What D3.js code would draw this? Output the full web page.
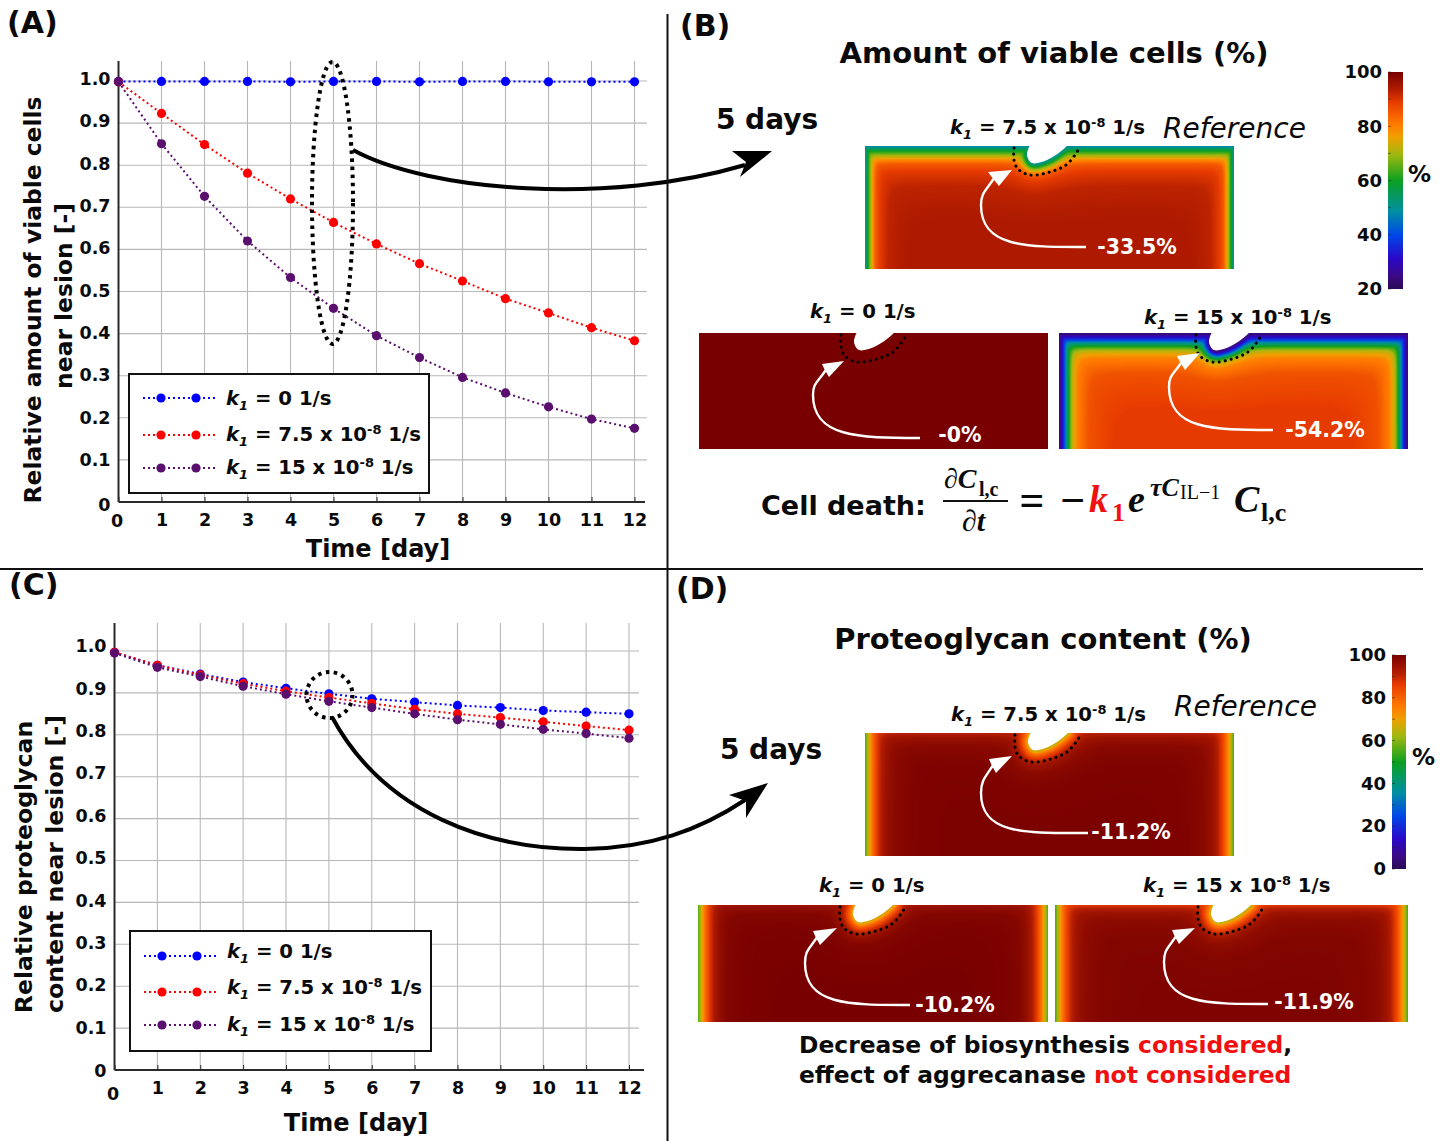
<!DOCTYPE html>
<html>
<head>
<meta charset="utf-8">
<script src="https://cdn.jsdelivr.net/npm/d3@7"></script>
<style>
  body { margin: 0; background: #fff; }
  svg { display: block; }
  text { font-family: "DejaVu Sans", Verdana, sans-serif; font-weight: 700; fill: #0a0a0a; }
  .grid line { stroke: #b8b8b8; stroke-width: 1.1px; }
  .axis path, .axis line { stroke: #2a2a2a; }
  .axis path { stroke-width: 2px; }
</style>
</head>
<body>
<svg id="chart" width="1451" height="1141"></svg>
<script>
// values
const days = [0, 1, 2, 3, 4, 5, 6, 7, 8, 9, 10, 11, 12];
const yTicks = [0, 0.1, 0.2, 0.3, 0.4, 0.5, 0.6, 0.7, 0.8, 0.9, 1.0];

const viableK0 = [0.999, 0.999, 0.999, 0.999, 0.998, 0.999, 0.999, 0.998, 0.999, 0.999, 0.998, 0.998, 0.998];
const viableK75 = [0.998, 0.923, 0.849, 0.781, 0.720, 0.664, 0.613, 0.566, 0.525, 0.483, 0.449, 0.414, 0.383];
const viableK15 = [0.998, 0.851, 0.726, 0.620, 0.533, 0.460, 0.395, 0.343, 0.296, 0.259, 0.226, 0.197, 0.175];

const pgK0 = [0.997, 0.966, 0.945, 0.926, 0.911, 0.898, 0.886, 0.878, 0.870, 0.865, 0.858, 0.854, 0.850];
const pgK75 = [0.997, 0.966, 0.943, 0.922, 0.904, 0.889, 0.875, 0.861, 0.850, 0.841, 0.831, 0.821, 0.811];
const pgK15 = [0.995, 0.961, 0.939, 0.916, 0.897, 0.880, 0.865, 0.850, 0.836, 0.825, 0.813, 0.803, 0.792];

const kValues = ["0", "7.5", "15"];
const kPowers = [false, true, true];
const seriesColors = ["#0000ff", "#ff0000", "#5a0f6e"];

// colour bars: position on the bar -> colour
const barStops = [0, 0.06, 0.14, 0.25, 0.36, 0.5, 0.62, 0.7, 0.76, 0.86, 0.92, 1];
const barColors = ["#2b0a55", "#3a0a86", "#2a08c8", "#0048e8", "#0090a0", "#0ca020", "#a0b810", "#f0a000", "#ff7a00", "#e83c00", "#b01c00", "#780000"];
const viableBarTicks = [20, 40, 60, 80, 100];
const pgBarTicks = [0, 20, 40, 60, 80, 100];

// fields: distance from a free edge (px) -> percent
const fieldDist = [0, 3, 6, 10, 14, 18, 25, 40, 70];
const viableRefPct = [47, 55, 62, 71, 79, 85, 89, 92.5, 94];
const viableZeroPct = [100, 100, 100, 100, 100, 100, 100, 100, 100];
const viableHighPct = [22, 28, 36, 50, 62, 72, 80, 86, 89];
const pgRefPct = [54, 66, 77, 86, 92, 95, 97.5, 99, 99.5];
const pgZeroPct = [55, 67, 78, 87, 93, 96, 98.5, 99.5, 100];
const pgHighPct = [54, 65, 76, 85, 91, 94.5, 97, 98.5, 99];

const svg = d3.select("#chart");
const barT = d3.scaleLinear().domain(barStops).range(barColors).clamp(true);

// ----- line charts -----
function kLabel(sel, idx, x, y, size) {
  const t = sel.append("text").attr("x", x).attr("y", y).style("font-size", size + "px");
  t.append("tspan").style("font-style", "italic").text("k");
  t.append("tspan").style("font-style", "italic").style("font-size", size * 0.66 + "px").attr("dy", size * 0.25).text("1");
  t.append("tspan").attr("dy", -size * 0.25).text(" = " + kValues[idx] + (kPowers[idx] ? " x 10" : ""));
  if (kPowers[idx]) {
    t.append("tspan").style("font-size", size * 0.66 + "px").attr("dy", -size * 0.36).text("-8");
    t.append("tspan").attr("dy", size * 0.36).text(" 1/s");
  } else {
    t.append("tspan").text(" 1/s");
  }
  return t;
}

function lineChart(o) {
  const x = d3.scaleLinear().domain([0, 12]).range([o.x0, o.x12]);
  const y = d3.scaleLinear().domain([0, 1]).range([o.y0, o.y1]);
  const g = svg.append("g");

  g.append("g").attr("class", "grid").selectAll("line").data(days.slice(1)).join("line")
    .attr("x1", d => x(d)).attr("x2", d => x(d)).attr("y1", o.top).attr("y2", o.y0);
  g.append("g").attr("class", "grid").selectAll("line").data(yTicks.slice(1)).join("line")
    .attr("x1", o.x0).attr("x2", o.gridRight).attr("y1", d => y(d)).attr("y2", d => y(d));

  const xAxis = g.append("g").attr("class", "axis").attr("transform", `translate(0,${o.y0})`)
    .call(d3.axisBottom(x).tickValues(days).tickSize(-5).tickSizeOuter(0).tickPadding(12).tickFormat(d3.format("d")));
  xAxis.select(".domain").attr("d", `M${o.x0},0H${o.axisRight}`);
  xAxis.selectAll(".tick text").style("font-size", "17.5px").attr("fill", "#0a0a0a")
    .attr("transform", d => d === 0 ? `translate(-2,${o.zeroX})` : null);

  const yAxis = g.append("g").attr("class", "axis").attr("transform", `translate(${o.x0},0)`)
    .call(d3.axisLeft(y).tickValues(yTicks).tickSize(0).tickPadding(8).tickFormat(d => d === 0 ? "0" : d.toFixed(1)));
  yAxis.select(".domain").attr("d", `M0,${o.top}V${o.y0}`);
  yAxis.selectAll(".tick text").style("font-size", "17.5px").attr("fill", "#0a0a0a")
    .attr("transform", d => `translate(0,${d === 0 ? o.zeroY : -o.lift * d})`);

  const line = d3.line().x((d, i) => x(days[i])).y(d => y(d));
  o.series.forEach((vals, k) => {
    g.append("path").attr("d", line(vals)).attr("fill", "none")
      .attr("stroke", seriesColors[k]).attr("stroke-width", 2).attr("stroke-dasharray", "2 3");
    g.selectAll(null).data(vals).join("circle")
      .attr("cx", (d, i) => x(days[i])).attr("cy", d => y(d)).attr("r", 4.6).attr("fill", seriesColors[k]);
  });

  // legend box
  g.append("rect").attr("x", o.lg.x).attr("y", o.lg.y).attr("width", o.lg.w).attr("height", o.lg.h)
    .attr("fill", "#fff").attr("stroke", "#111").attr("stroke-width", 2);
  kValues.forEach((v, i) => {
    const ly = o.lg.lines[i];
    g.append("line").attr("x1", o.lg.x + 14).attr("x2", o.lg.x + 87).attr("y1", ly).attr("y2", ly)
      .attr("stroke", seriesColors[i]).attr("stroke-width", 2).attr("stroke-dasharray", "2 3");
    [o.lg.x + 32, o.lg.x + 67].forEach(cx => {
      g.append("circle").attr("cx", cx).attr("cy", ly).attr("r", 4.6).attr("fill", seriesColors[i]);
    });
    kLabel(g, i, o.lg.x + 97, o.lg.text[i], 19.7);
  });

  g.append("text").attr("text-anchor", "middle").attr("x", o.xLabel[0]).attr("y", o.xLabel[1])
    .style("font-size", "24px").text("Time [day]");
  o.yLabels.forEach(l => {
    g.append("text").attr("text-anchor", "middle")
      .attr("transform", `translate(${l.x},${l.y}) rotate(-90)`)
      .style("font-size", l.size + "px").text(l.text);
  });
}

lineChart({
  x0: 118.5, x12: 634.5, y0: 502, y1: 81, top: 61, gridRight: 647, axisRight: 645,
  lift: 2, zeroY: 3, zeroX: 1,
  series: [viableK0, viableK75, viableK15],
  lg: { x: 129, y: 374, w: 300, h: 119, lines: [398, 435, 468], text: [405, 441, 474] },
  xLabel: [378, 557],
  yLabels: [
    { text: "Relative amount of viable cells", x: 41, y: 300, size: 23.4 },
    { text: "near lesion [-]", x: 72, y: 296, size: 23.4 }
  ]
});

lineChart({
  x0: 114.5, x12: 629, y0: 1070, y1: 651, top: 623, gridRight: 639, axisRight: 644,
  lift: 5, zeroY: 1, zeroX: 6,
  series: [pgK0, pgK75, pgK15],
  lg: { x: 130, y: 931, w: 301, h: 120, lines: [956, 992, 1025], text: [958, 994, 1031] },
  xLabel: [356, 1131],
  yLabels: [
    { text: "Relative proteoglycan", x: 32, y: 867, size: 23.6 },
    { text: "content near lesion [-]", x: 63, y: 864, size: 23.6 }
  ]
});

// ----- heat maps -----
// lesion outline and dotted contour, relative to the lesion's left end on the top edge
const lesionPts = [[1, -1], [-2, 9], [3, 17], [18, 14], [31, 6], [39, -1]];
const contourPts = [[-15, 2], [-15, 14], [-11, 23], [1, 29], [21, 26], [37, 19], [46, 9], [51, 1]];
const lesionCurve = d3.line().curve(d3.curveCatmullRom);

function sampleLesion(lx) {
  const tmp = svg.append("path").attr("d", lesionCurve(lesionPts));
  const node = tmp.node(), len = node.getTotalLength(), pts = [];
  for (let s = 0; s <= len; s += 2) {
    const p = node.getPointAtLength(s);
    pts.push([p.x + lx, p.y]);
  }
  tmp.remove();
  return pts;
}

function heatMap(o) {
  const w = Math.round(o.x1 - o.x), h = Math.round(o.y1 - o.y);
  const canvas = document.createElement("canvas");
  canvas.width = w; canvas.height = h;
  const ctx = canvas.getContext("2d");
  const img = ctx.createImageData(w, h);
  const profile = d3.scaleLinear().domain(fieldDist).range(o.pct).clamp(true);
  const toBar = d3.scaleLinear().domain(o.barDomain).range([0, 1]);
  const lesion = sampleLesion(o.lesionX - o.x);
  const p = 4;
  for (let j = 0; j < h; j++) {
    for (let i = 0; i < w; i++) {
      const dSide = Math.min(i + 0.5, w - i - 0.5) * o.side;
      const dTop = (j + 0.5) * o.topK + o.topOff;
      let dLes = Infinity;
      lesion.forEach(q => {
        const dd = Math.hypot(i - q[0], j - q[1]);
        if (dd < dLes) dLes = dd;
      });
      dLes = dLes * o.lesK + o.lesOff;
      const d = Math.pow(Math.pow(dSide, -p) + Math.pow(dTop, -p) + Math.pow(dLes, -p), -1 / p);
      const c = d3.rgb(barT(toBar(profile(d))));
      const n = (j * w + i) * 4;
      img.data[n] = c.r; img.data[n + 1] = c.g; img.data[n + 2] = c.b; img.data[n + 3] = 255;
    }
  }
  ctx.putImageData(img, 0, 0);
  svg.append("image").attr("x", o.x).attr("y", o.y).attr("width", w).attr("height", h)
    .attr("href", canvas.toDataURL());

  // lesion cut-out
  svg.append("path").attr("transform", `translate(${o.lesionX},${o.y})`)
    .attr("d", lesionCurve(lesionPts)).attr("fill", "#fff");
  svg.append("rect").attr("x", o.lesionX - 1).attr("y", o.y - 2).attr("width", 42).attr("height", 2).attr("fill", "#fff");
  // dotted contour
  svg.append("path").attr("transform", `translate(${o.lesionX},${o.y})`)
    .attr("d", d3.line().curve(d3.curveCatmullRom)(contourPts))
    .attr("fill", "none").attr("stroke", "#000").attr("stroke-width", 3)
    .attr("stroke-linecap", "round").attr("stroke-dasharray", "0.1 6");

  // white pointer
  const a = o.arrow;
  const mid = [(a.b1[0] + a.b2[0]) / 2, (a.b1[1] + a.b2[1]) / 2];
  svg.append("path")
    .attr("d", `M${a.tail}C${a.tail[0] - 62},${a.tail[1]} ${a.left[0]},${a.left[1] + 42} ${a.left}C${a.left[0]},${a.left[1] - 12} ${mid[0] - 8},${mid[1] + 12} ${mid}`)
    .attr("fill", "none").attr("stroke", "#fff").attr("stroke-width", 2.4);
  svg.append("path").attr("d", `M${a.tip}L${a.b1}L${mid[0] - 1},${mid[1] - 1}L${a.b2}Z`).attr("fill", "#fff");

  svg.append("text").attr("x", o.pctLabel[0]).attr("y", o.pctLabel[1]).attr("text-anchor", "middle")
    .style("font-size", "20.5px").style("fill", "#fff").text(o.pctLabel[2]);
  kLabel(svg, o.k, o.kLabel[0], o.kLabel[1], 19.7).attr("text-anchor", "start");
}

const viableDomain = [20, 100], pgDomain = [0, 100];

heatMap({ x: 865, y: 146, x1: 1234, y1: 269, lesionX: 1029, pct: viableRefPct, barDomain: viableDomain,
  side: 1.7, topK: 1, topOff: 0.01, lesK: 1.5, lesOff: 0.5, k: 1, kLabel: [950, 134],
  arrow: { tail: [1086, 247], left: [981, 205], tip: [1012, 170], b1: [988, 172], b2: [999, 186] },
  pctLabel: [1137, 254, "-33.5%"] });
heatMap({ x: 699, y: 333, x1: 1048, y1: 449, lesionX: 856, pct: viableZeroPct, barDomain: viableDomain,
  side: 1, topK: 1, topOff: 1, lesK: 1, lesOff: 1, k: 0, kLabel: [810, 318],
  arrow: { tail: [920, 438], left: [813, 395], tip: [844, 361], b1: [822, 364], b2: [829, 377] },
  pctLabel: [960, 442, "-0%"] });
heatMap({ x: 1059, y: 333, x1: 1408, y1: 449, lesionX: 1211, pct: viableHighPct, barDomain: viableDomain,
  side: 1.35, topK: 1, topOff: 0.01, lesK: 1.5, lesOff: 0.5, k: 2, kLabel: [1144, 324],
  arrow: { tail: [1273, 430], left: [1169, 387], tip: [1200, 353], b1: [1177, 356], b2: [1185, 370] },
  pctLabel: [1325, 437, "-54.2%"] });

heatMap({ x: 865, y: 733, x1: 1234, y1: 856, lesionX: 1030, pct: pgRefPct, barDomain: pgDomain,
  side: 0.85, topK: 1, topOff: 13, lesK: 1, lesOff: 2.5, k: 1, kLabel: [951, 721],
  arrow: { tail: [1088, 833], left: [981, 793], tip: [1012, 756], b1: [989, 759], b2: [996, 773] },
  pctLabel: [1131, 839, "-11.2%"] });
heatMap({ x: 698, y: 905, x1: 1048, y1: 1022, lesionX: 855, pct: pgZeroPct, barDomain: pgDomain,
  side: 0.85, topK: 1, topOff: 16, lesK: 1, lesOff: 2.5, k: 0, kLabel: [819, 892],
  arrow: { tail: [910, 1005], left: [805, 963], tip: [837, 928], b1: [813, 931], b2: [820, 945] },
  pctLabel: [955, 1012, "-10.2%"] });
heatMap({ x: 1055, y: 905, x1: 1408, y1: 1022, lesionX: 1213, pct: pgHighPct, barDomain: pgDomain,
  side: 0.85, topK: 1, topOff: 11, lesK: 1, lesOff: 2.5, k: 2, kLabel: [1143, 892],
  arrow: { tail: [1268, 1004], left: [1164, 962], tip: [1195, 928], b1: [1172, 930], b2: [1179, 944] },
  pctLabel: [1314, 1009, "-11.9%"] });

// ----- colour bars -----
const defs = svg.append("defs");
const grad = defs.append("linearGradient").attr("id", "rainbow")
  .attr("x1", 0).attr("x2", 0).attr("y1", 1).attr("y2", 0);
barStops.forEach((s, i) => grad.append("stop").attr("offset", s).attr("stop-color", barColors[i]));

function colorBar(o) {
  const y = d3.scaleLinear().domain(o.domain).range([o.y1, o.y0]);
  svg.append("rect").attr("x", o.x).attr("y", o.y0).attr("width", o.w).attr("height", o.y1 - o.y0)
    .attr("fill", "url(#rainbow)");
  const ax = svg.append("g").attr("class", "axis").attr("transform", `translate(${o.x},0)`)
    .call(d3.axisLeft(y).tickValues(o.ticks).tickSize(0).tickPadding(6));
  ax.select(".domain").remove();
  ax.selectAll(".tick text").style("font-size", "18px").attr("fill", "#0a0a0a");
  svg.append("g").selectAll("line").data(d3.range(o.domain[0], o.domain[1] + 1, 10)).join("line")
    .attr("x1", o.x).attr("x2", o.x + 3).attr("y1", d => y(d)).attr("y2", d => y(d))
    .attr("stroke", "#222").attr("stroke-opacity", 0.5);
  svg.append("text").attr("x", o.pct[0]).attr("y", o.pct[1]).style("font-size", "23px").text("%");
}
colorBar({ x: 1388, w: 15, y0: 72, y1: 289, domain: viableDomain, ticks: viableBarTicks, pct: [1408, 182] });
colorBar({ x: 1392, w: 14, y0: 655, y1: 869, domain: pgDomain, ticks: pgBarTicks, pct: [1412, 765] });

// ----- annotation arrows and rings -----
svg.append("ellipse").attr("cx", 332.5).attr("cy", 203).attr("rx", 20.5).attr("ry", 141)
  .attr("fill", "none").attr("stroke", "#000").attr("stroke-width", 4).attr("stroke-dasharray", "3.5 4.5");
svg.append("path").attr("d", "M353,150C430,192 610,205 745,165")
  .attr("fill", "none").attr("stroke", "#000").attr("stroke-width", 4);
svg.append("path").attr("d", "M772,151L732,151L746,162L740,177Z").attr("fill", "#000");

svg.append("circle").attr("cx", 329.5).attr("cy", 695).attr("r", 23)
  .attr("fill", "none").attr("stroke", "#000").attr("stroke-width", 4).attr("stroke-dasharray", "3.5 4.5");
svg.append("path").attr("d", "M332,717C385,815 490,850 585,849C650,848 700,830 745,800")
  .attr("fill", "none").attr("stroke", "#000").attr("stroke-width", 4);
svg.append("path").attr("d", "M768,783L729,795L746,801L746,818Z").attr("fill", "#000");

// ----- panel frame -----
svg.append("line").attr("x1", 667.5).attr("x2", 667.5).attr("y1", 14).attr("y2", 1141).attr("stroke", "#111").attr("stroke-width", 2);
svg.append("line").attr("x1", 0).attr("x2", 1423).attr("y1", 569).attr("y2", 569).attr("stroke", "#111").attr("stroke-width", 2);

// ----- texts -----
const plain = [
  ["(A)", 7, 33, 30, "start"], ["(B)", 680, 36, 30, "start"], ["(C)", 9, 595, 30, "start"], ["(D)", 676, 599, 30, "start"],
  ["Amount of viable cells (%)", 1054, 63, 29, "middle"], ["Proteoglycan content (%)", 1043, 649, 29, "middle"],
  ["5 days", 767, 129, 28, "middle"], ["5 days", 771, 759, 28, "middle"]
];
plain.forEach(d => {
  svg.append("text").attr("x", d[1]).attr("y", d[2]).attr("text-anchor", d[4]).style("font-size", d[3] + "px").text(d[0]);
});
[[1163, 137.5], [1174, 715.5]].forEach(p => {
  svg.append("text").attr("x", p[0]).attr("y", p[1]).style("font-size", "28px")
    .style("font-weight", 400).style("font-style", "italic").text("Reference");
});

// equation
const serif = '"Liberation Serif", serif';
function eq(t, x, y, size, color) {
  svg.append("text").attr("x", x).attr("y", y).style("font-family", serif).style("font-style", "italic")
    .style("font-size", size + "px").style("fill", color || "#0a0a0a").text(t);
}
svg.append("text").attr("x", 761).attr("y", 515).style("font-size", "27px").text("Cell death:");
eq("\u2202C", 944, 488, 28);
svg.append("text").attr("x", 979).attr("y", 496).style("font-family", serif).style("font-size", "20px").text("l,c");
svg.append("line").attr("x1", 943).attr("x2", 1008).attr("y1", 501).attr("y2", 501).attr("stroke", "#111").attr("stroke-width", 2);
eq("\u2202t", 962, 531, 30);
eq("=", 1019, 515, 44);
eq("\u2212", 1059, 515, 44);
eq("k", 1089, 512, 38, "#f01010");
svg.append("text").attr("x", 1112).attr("y", 521).style("font-family", serif).style("font-size", "26px").style("fill", "#f01010").text("1");
eq("e", 1128, 512, 38);
eq("\u03c4C", 1150, 496, 26);
svg.append("text").attr("x", 1180).attr("y", 499).style("font-family", serif).style("font-size", "20px").style("font-weight", 400).text("IL\u22121");
eq("C", 1234, 512, 38);
svg.append("text").attr("x", 1261).attr("y", 521).style("font-family", serif).style("font-size", "26px").text("l,c");

// footer note
const note = svg.append("g").style("font-size", "23.4px");
const line1 = note.append("text").attr("x", 799).attr("y", 1053);
line1.append("tspan").text("Decrease of biosynthesis ");
line1.append("tspan").style("fill", "#f01010").text("considered");
line1.append("tspan").text(",");
const line2 = note.append("text").attr("x", 799).attr("y", 1083);
line2.append("tspan").text("effect of aggrecanase ");
line2.append("tspan").style("fill", "#f01010").text("not considered");
</script>
</body>
</html>
